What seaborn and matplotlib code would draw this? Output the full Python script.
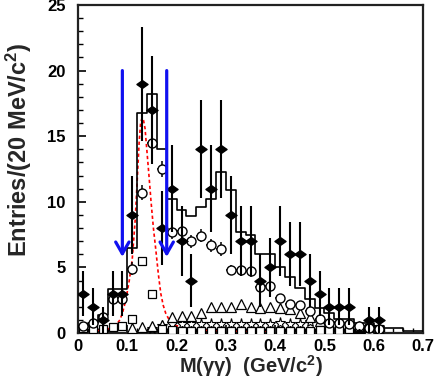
import numpy as np
import pandas as pd
import matplotlib
matplotlib.use("Agg")
import matplotlib.pyplot as plt
from matplotlib.path import Path
import seaborn as sns

# ---------------- data ----------------
bin_centers = [0.01, 0.03, 0.05, 0.07, 0.09, 0.11, 0.13, 0.15, 0.17, 0.19,
               0.21, 0.23, 0.25, 0.27, 0.29, 0.31, 0.33, 0.35, 0.37, 0.39,
               0.41, 0.43, 0.45, 0.47, 0.49, 0.51, 0.53, 0.55, 0.57, 0.59,
               0.61]
data_counts = [3, 2, 1, 3, 3, 9, 19, 17, 8, 11,
               7, 4, 14, 11, 14, 9, 7, 7, 4, 5,
               7, 6, 6, 4, 3, 2, 2, 2, 0, 1,
               1]
mc_circles = [0.5, 0.8, 1.2, 2.6, 2.6, 4.9, 10.7, 14.5, 12.5, 7.7,
              7.8, 7.0, 7.4, 6.7, 6.4, 4.8, 4.8, 4.7, 3.5, 3.6,
              2.7, 2.2, 2.1, 1.7, 1.1, 0.75, 0.75, 0.7, 0.5, 0.4,
              0.3]
mc_circle_err = [0.3, 0.3, 0.3, 0.4, 0.4, 0.5, 0.6, 0.7, 0.6, 0.5,
                 0.5, 0.5, 0.5, 0.5, 0.5, 0.4, 0.4, 0.4, 0.4, 0.4,
                 0.3, 0.3, 0.3, 0.3, 0.3, 0.2, 0.2, 0.2, 0.2, 0.2,
                 0.2]
sq_values = [0.4, 0.3, 0.3, 0.45, 0.5, 1.1, 5.5, 3.0, 0.3, 0.2,
             0.15, 0.15, 0.15, 0.15, 0.15, 0.15, 0.15, 0.15, 0.15, 0.15,
             0.15, 0.15, 0.15, 0.15, 0.2, 0.2, 0.25, 0.3, 0.3, 0.35,
             0.3]
tri_x = [0.11, 0.13, 0.15, 0.17, 0.19, 0.21, 0.23, 0.25, 0.27, 0.29,
         0.31, 0.33, 0.35, 0.37, 0.39, 0.41, 0.43, 0.45, 0.47, 0.49,
         0.51, 0.53, 0.55, 0.57, 0.59, 0.61]
tri_values = [0.35, 0.43, 0.5, 0.6, 1.25, 1.3, 1.3, 1.55, 1.95, 2.0,
              2.0, 2.2, 2.0, 1.9, 2.0, 1.9, 1.8, 1.5, 1.2, 0.95,
              0.75, 0.6, 0.5, 0.4, 0.3, 0.25]
star_x = [0.15, 0.17, 0.19, 0.21, 0.23, 0.25, 0.27, 0.29, 0.31, 0.33,
          0.35, 0.37, 0.39, 0.41, 0.43, 0.45, 0.47, 0.49, 0.51, 0.53,
          0.55, 0.57, 0.59, 0.61]
star_values = [0.3, 0.55, 0.65, 0.65, 0.7, 0.7, 0.7, 0.7, 0.7, 0.7,
               0.7, 0.7, 0.7, 0.8, 0.7, 0.7, 0.85, 0.9, 0.75, 0.7,
               0.55, 0.45, 0.35, 0.3]
hist_edges = [0.00, 0.02, 0.04, 0.06, 0.08, 0.10, 0.12, 0.14, 0.16, 0.18,
              0.20, 0.22, 0.24, 0.26, 0.28, 0.30, 0.32, 0.34, 0.36, 0.38,
              0.40, 0.42, 0.44, 0.46, 0.48, 0.50, 0.52, 0.54, 0.56, 0.58,
              0.60, 0.62, 0.64, 0.66, 0.68, 0.70]
hist_values = [0.45, 0.8, 1.37, 3.33, 3.33, 6.45, 16.8, 18.2, 14.0, 10.2,
               9.4, 8.9, 9.6, 10.2, 12.3, 10.9, 7.7, 7.5, 6.0, 6.0,
               5.0, 4.3, 3.4, 2.6, 1.9, 1.5, 1.1, 1.1, 0.8, 0.8,
               0.55, 0.35, 0.35, 0.15, 0.15]
curve_x = [0.000, 0.020, 0.040, 0.060, 0.070, 0.080, 0.085, 0.090, 0.097,
           0.104, 0.110, 0.116, 0.120, 0.124, 0.127, 0.130, 0.133, 0.136,
           0.140, 0.144, 0.148, 0.153, 0.158, 0.163, 0.168, 0.173, 0.178,
           0.185, 0.192, 0.200, 0.215, 0.230, 0.260, 0.300, 0.350, 0.400]
curve_y = [0.10, 0.12, 0.18, 0.30, 0.45, 0.75, 1.0, 1.5, 2.5,
           4.0, 5.6, 8.6, 11.5, 14.5, 16.0, 16.4, 16.2, 15.6,
           13.8, 12.0, 10.1, 8.0, 6.3, 4.5, 3.0, 2.1, 1.5,
           1.0, 0.74, 0.55, 0.40, 0.30, 0.20, 0.15, 0.10, 0.05]
arrow_x = [0.09, 0.18]
arrow_top = 20.0
arrow_tip = 5.8

# ---------------- style ----------------
sns.set_theme(style="ticks")
plt.rcParams["font.family"] = ["Liberation Sans", "DejaVu Sans"]
plt.rcParams["font.weight"] = "bold"
plt.rcParams["mathtext.fontset"] = "custom"
plt.rcParams["mathtext.rm"] = "Liberation Sans:bold"
plt.rcParams["mathtext.bf"] = "Liberation Sans:bold"
plt.rcParams["mathtext.it"] = "Liberation Sans:bold"
plt.rcParams["mathtext.default"] = "bf"

fig = plt.figure(figsize=(4.36, 3.82), dpi=100)
ax = fig.add_axes([78 / 436, 49 / 382, 345 / 436, 328 / 382])

# histogram (MC sum)
hdf = pd.DataFrame({"x": [(a + b) / 2 for a, b in zip(hist_edges[:-1], hist_edges[1:])],
                    "w": hist_values})
sns.histplot(data=hdf, x="x", weights="w", bins=hist_edges, element="step",
             fill=False, color="black", linewidth=1.2, ax=ax, zorder=3)

# red dashed curve
cdf = pd.DataFrame({"x": curve_x, "y": curve_y})
sns.lineplot(data=cdf, x="x", y="y", color="red", linewidth=1.2,
             dashes=False, ax=ax, zorder=2)
ax.lines[-1].set_linestyle((0, (2, 1.6)))

# diamond marker shape
diamond = Path([(-1, 0), (0, 0.7), (1, 0), (0, -0.7), (-1, 0)],
               [Path.MOVETO, Path.LINETO, Path.LINETO, Path.LINETO, Path.CLOSEPOLY])

# small components
ax.plot(star_x, star_values, linestyle="none", marker="*", markersize=8,
        markerfacecolor="white", markeredgecolor="black", markeredgewidth=0.8, zorder=4)
ax.plot(tri_x, tri_values, linestyle="none", marker="^", markersize=6.5,
        markerfacecolor="white", markeredgecolor="black", markeredgewidth=0.9, zorder=4)
ax.plot(bin_centers, sq_values, linestyle="none", marker="s", markersize=6,
        markerfacecolor="white", markeredgecolor="black", markeredgewidth=0.9, zorder=4)

# open circles with errors
ax.errorbar(bin_centers, mc_circles, yerr=mc_circle_err, xerr=0.01, fmt="o",
            markersize=6.5, markerfacecolor="white", markeredgecolor="black",
            markeredgewidth=1.0, ecolor="black", elinewidth=1.1, capsize=0, zorder=5)

# data: filled diamonds with Poisson errors
dc = np.array(data_counts, dtype=float)
ax.errorbar(bin_centers, dc, yerr=np.sqrt(dc), xerr=0.008, fmt="none",
            ecolor="black", elinewidth=1.5, capsize=0, zorder=6)
ax.plot(bin_centers, dc, linestyle="none", marker=diamond, markersize=8,
        color="black", zorder=7)

# blue arrows
for xa in arrow_x:
    ax.annotate("", xy=(xa, arrow_tip), xytext=(xa, arrow_top),
                arrowprops=dict(arrowstyle="->,head_length=0.7,head_width=0.4",
                                color="#1010f0", lw=2.3, shrinkA=0, shrinkB=0),
                zorder=8)

# axes
ax.set_xlim(0, 0.7)
ax.set_ylim(0, 25)
ax.set_xticks([0, 0.1, 0.2, 0.3, 0.4, 0.5, 0.6, 0.7])
ax.set_xticklabels(["0", "0.1", "0.2", "0.3", "0.4", "0.5", "0.6", "0.7"])
ax.set_yticks([0, 5, 10, 15, 20, 25])
ax.set_xticks(np.arange(0, 0.701, 0.02), minor=True)
ax.set_yticks(np.arange(0, 25.01, 1), minor=True)
ax.tick_params(axis="both", which="both", direction="in", top=False, right=False,
               colors="black", labelsize=12)
ax.tick_params(axis="both", which="major", length=6, width=1.2)
ax.tick_params(axis="both", which="minor", length=3.5, width=1.0)
ax.tick_params(axis="y", pad=9)
ax.tick_params(axis="x", pad=4)
for lab in ax.get_xticklabels() + ax.get_yticklabels():
    lab.set_fontweight("bold")
for sp in ax.spines.values():
    sp.set_visible(True)
    sp.set_linewidth(1.6)
    sp.set_color("#222222")

ax.set_xlabel(r"M(γγ)  (GeV/c$^{2}$)", fontsize=14.5, fontweight="bold", labelpad=0)
ax.set_ylabel(r"Entries/(20 MeV/c$^{2}$)", fontsize=17, fontweight="bold")
ax.yaxis.set_label_coords(-0.128, 0.56)

fig.savefig("out.png", dpi=100)
